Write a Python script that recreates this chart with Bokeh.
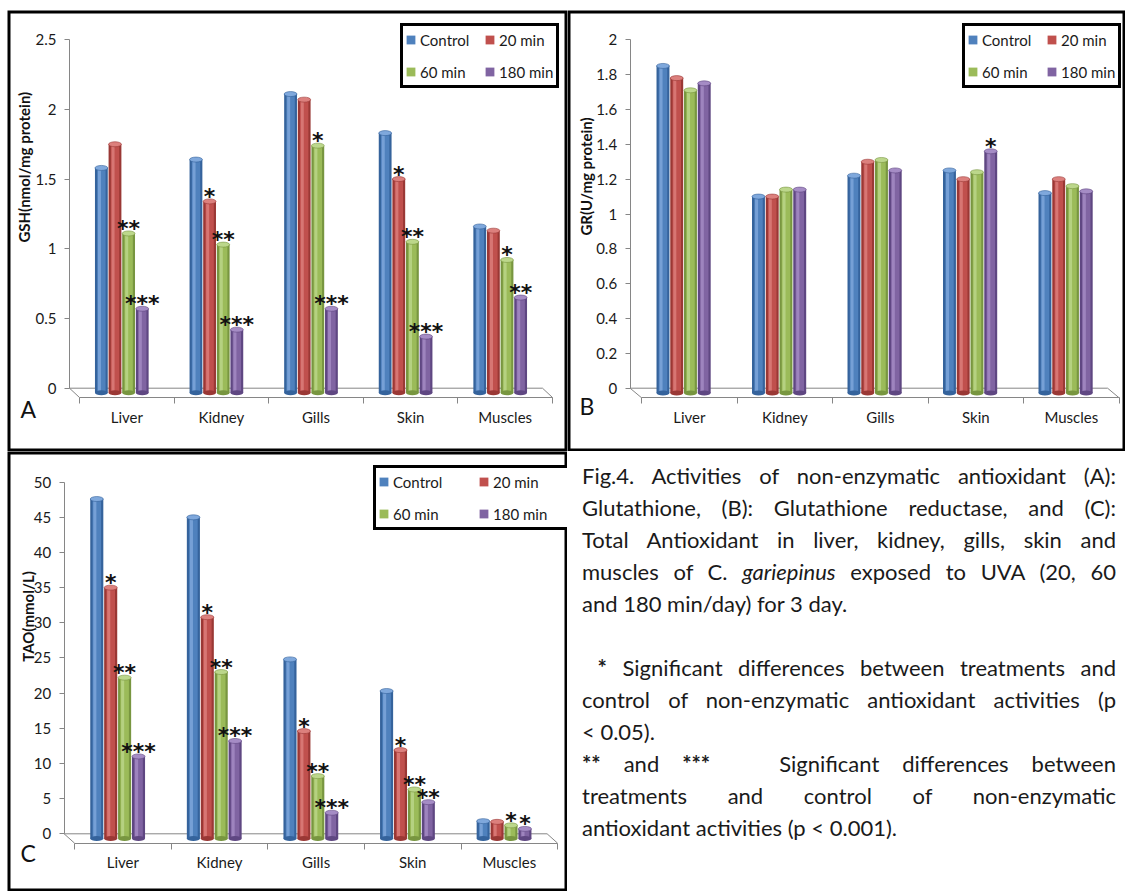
import numpy as np
from math import pi
from bokeh.plotting import figure
from bokeh.models import (ColumnDataSource, Range1d, FixedTicker, NumeralTickFormatter,
                          Legend, LegendItem, Div, LinearAxis, BoxAnnotation)
from bokeh.layouts import row, column
from bokeh.embed import file_html
from bokeh.resources import INLINE
from bokeh.core.properties import value

# ---------------- data ----------------
categories = ["Liver", "Kidney", "Gills", "Skin", "Muscles"]
series = ["Control", "20 min", "60 min", "180 min"]

gsh_control = [1.58, 1.64, 2.11, 1.83, 1.16]
gsh_20 = [1.75, 1.34, 2.07, 1.50, 1.13]
gsh_60 = [1.11, 1.03, 1.74, 1.05, 0.92]
gsh_180 = [0.57, 0.42, 0.57, 0.37, 0.65]
gsh_sig_control = ["", "", "", "", ""]
gsh_sig_20 = ["", "*", "", "*", ""]
gsh_sig_60 = ["**", "**", "*", "**", "*"]
gsh_sig_180 = ["***", "***", "***", "***", "**"]
gsh_ticks = [0, 0.5, 1, 1.5, 2, 2.5]

gr_control = [1.85, 1.10, 1.22, 1.25, 1.12]
gr_20 = [1.78, 1.10, 1.30, 1.20, 1.20]
gr_60 = [1.71, 1.14, 1.31, 1.24, 1.16]
gr_180 = [1.75, 1.14, 1.25, 1.36, 1.13]
gr_sig_control = ["", "", "", "", ""]
gr_sig_20 = ["", "", "", "", ""]
gr_sig_60 = ["", "", "", "", ""]
gr_sig_180 = ["", "", "", "*", ""]
gr_ticks = [0, 0.2, 0.4, 0.6, 0.8, 1, 1.2, 1.4, 1.6, 1.8, 2]

tao_control = [47.6, 45.0, 24.8, 20.3, 1.8]
tao_20 = [35.0, 30.8, 14.6, 11.9, 1.7]
tao_60 = [22.2, 23.0, 8.2, 6.3, 1.2]
tao_180 = [11.0, 13.2, 3.0, 4.5, 0.7]
tao_sig_control = ["", "", "", "", ""]
tao_sig_20 = ["*", "*", "*", "*", ""]
tao_sig_60 = ["**", "**", "**", "**", "*"]
tao_sig_180 = ["***", "***", "***", "**", "*"]
tao_ticks = [0, 5, 10, 15, 20, 25, 30, 35, 40, 45, 50]

# caption lines as (html, justified?) ; None = blank line
caption_lines = [
    ("Fig.4. Activities of non-enzymatic antioxidant (A):", True),
    ("Glutathione, (B): Glutathione reductase, and (C):", True),
    ("Total Antioxidant in liver, kidney, gills, skin and", True),
    ("muscles of C. <i>gariepinus</i> exposed to UVA (20, 60", True),
    ("and 180 min/day) for 3 day.", False),
    None,
    ("&nbsp;<b>*</b> Significant differences between treatments and", True),
    ("control of non-enzymatic antioxidant activities (p", True),
    ("&lt; 0.05).", False),
    ("<b>**</b> and <b>***</b>&nbsp;&nbsp; Significant differences between", True),
    ("treatments and control of non-enzymatic", True),
    ("antioxidant activities (p &lt; 0.001).", False),
]

# ---------------- style ----------------
FONT = "Lato"
AXIS_GRAY = "#868686"
BASE = ["#4F81BD", "#C0504D", "#9BBB59", "#8064A2"]
LIGHT = ["#7FA8DC", "#DC807D", "#BCD78B", "#A58CC5"]
DARK = ["#35639C", "#9A3835", "#789640", "#5F4782"]
BAR_W = 0.144
LEGEND_H = 66


def make_panel(vals, sigs, ylabel, yticks, letter, g, legend_label_width):
    W, H, ax, zero = g["W"], g["H"], g["ax"], g["zero"]
    cat, unit = g["cat"], g["unit"]
    f = g["shift"] / cat
    y_front = -g["drop"] / unit
    n = len(categories)
    x0, x1 = -ax / cat, (W - ax) / cat

    p = figure(width=W, height=H, x_range=Range1d(x0, x1),
               y_range=Range1d((zero - H) / unit, zero / unit),
               x_axis_location=None, toolbar_location=None, output_backend="svg",
               min_border=0)
    p.outline_line_color = None
    p.grid.grid_line_color = None
    p.background_fill_color = "white"
    p.border_fill_color = "white"

    # category axis on the front edge of the floor
    p.extra_x_ranges = {"front": Range1d(x0 - f - 0.5, x1 - f - 0.5)}
    xax = LinearAxis(x_range_name="front", fixed_location=y_front,
                     ticker=FixedTicker(ticks=list(range(n)),
                                        minor_ticks=[k - 0.5 for k in range(n + 1)]),
                     major_label_overrides={k: c for k, c in enumerate(categories)},
                     bounds=(-0.5, n - 0.5))
    xax.axis_line_color = AXIS_GRAY
    xax.major_tick_out = 0
    xax.major_tick_in = 0
    xax.minor_tick_out = 6
    xax.minor_tick_in = 0
    xax.minor_tick_line_color = AXIS_GRAY
    xax.major_label_text_font = FONT
    xax.major_label_text_font_size = "15px"
    xax.major_label_text_color = "#1a1a1a"
    xax.major_label_standoff = 4
    p.add_layout(xax, "below")

    yax = p.yaxis[0]
    yax.fixed_location = 0
    yax.ticker = FixedTicker(ticks=yticks)
    yax.formatter = NumeralTickFormatter(format="0.[0]")
    yax.bounds = (0, yticks[-1])
    yax.axis_line_color = AXIS_GRAY
    yax.major_tick_line_color = AXIS_GRAY
    yax.major_tick_out = 5
    yax.major_tick_in = 0
    yax.minor_tick_line_color = None
    yax.major_label_text_font = FONT
    yax.major_label_text_font_size = "15px"
    yax.major_label_text_color = "#1a1a1a"
    yax.major_label_standoff = 8

    # floor of the 3-D chart
    p.segment(x0=[0, 0, n], y0=[0, 0, 0], x1=[n, f, n + f], y1=[0, y_front, y_front],
              line_color=AXIS_GRAY, line_width=1)

    base = y_front / 2
    mids = []
    for j, (v, s) in enumerate(zip(vals, sigs)):
        xs = np.arange(n) + 0.5 + f / 2 + (j - 1.5) * BAR_W
        src = ColumnDataSource(dict(x=xs, v=v, sig=s, b=[base] * n))
        p.vbar(x="x", top="v", bottom="b", width=BAR_W * 0.94, source=src,
               fill_color=DARK[j], line_color=None)
        r = p.vbar(x="x", top="v", bottom="b", width=BAR_W * 0.62, source=src,
                   fill_color=BASE[j], line_color=None)
        p.vbar(x=xs - BAR_W * 0.14, top=v, bottom=[base] * n, width=BAR_W * 0.22,
               fill_color=LIGHT[j], line_color=None, fill_alpha=0.8)
        p.ellipse(x="x", y="b", width=BAR_W * 0.94, height=5, height_units="screen",
                  source=src, fill_color=DARK[j], line_color=None)
        p.ellipse(x="x", y="v", width=BAR_W * 0.94, height=5, height_units="screen",
                  source=src, fill_color=LIGHT[j], line_color=DARK[j], line_width=0.6)
        p.text(x="x", y="v", text="sig", source=src, text_font=value("DejaVu Sans"),
               text_font_size="22px", text_font_style="bold", text_align="center",
               text_baseline="alphabetic", y_offset=-5, text_color="#111111")
        mids.append(r)

    legend = Legend(items=[LegendItem(label=s, renderers=[r]) for s, r in zip(series, mids)],
                    location=(g["lg_left"], H - g["lg_top"] - LEGEND_H),
                    orientation="horizontal", ncols=2)
    legend.border_line_color = "black"
    legend.border_line_width = 3
    legend.border_line_alpha = 1
    legend.background_fill_color = "white"
    legend.background_fill_alpha = 1
    legend.label_text_font = FONT
    legend.label_text_font_size = "15px"
    legend.label_text_color = "#1a1a1a"
    legend.glyph_width = 11
    legend.glyph_height = 11
    legend.label_standoff = 4
    legend.label_width = legend_label_width
    legend.label_height = 23
    legend.padding = 2
    legend.spacing = 9
    legend.margin = 0
    p.add_layout(legend)

    # y-axis title and panel letter
    p.text(x=[(g["ylx"] - ax) / cat], y=[(zero - g["yly"]) / unit], text=[ylabel],
           angle=pi / 2, text_align="center", text_baseline="middle",
           text_font=value(FONT), text_font_size="15px", text_font_style="bold",
           text_color="#111111")
    p.text(x=[(g["lx"] - ax) / cat], y=[(zero - g["ly"]) / unit], text=[letter],
           text_align="left", text_baseline="middle",
           text_font=value(FONT), text_font_size="23px", text_color="#111111")

    # panel frame
    p.add_layout(BoxAnnotation(fill_color=None, line_color="black", line_width=6,
                               line_alpha=1))
    return p


geo_a = dict(W=560, H=441, ax=62, cat=94.6, shift=10, drop=9.3, zero=377.7, unit=139.4,
             ylx=16.6, yly=156.7, lx=13, ly=398, lg_left=393, lg_top=12)
geo_b = dict(W=558, H=441, ax=62.6, cat=95.5, shift=11.5, drop=9.6, zero=377.7, unit=174.2,
             ylx=18, yly=166, lx=12, ly=395, lg_left=395, lg_top=12)
geo_c = dict(W=560, H=440, ax=56.6, cat=96.6, shift=10.5, drop=9.4, zero=382.3, unit=7.033,
             ylx=20, yly=165, lx=13, ly=401, lg_left=366, lg_top=13)

pA = make_panel([gsh_control, gsh_20, gsh_60, gsh_180],
                [gsh_sig_control, gsh_sig_20, gsh_sig_60, gsh_sig_180],
                "GSH(nmol/mg protein)", gsh_ticks, "A", geo_a, 55)
pB = make_panel([gr_control, gr_20, gr_60, gr_180],
                [gr_sig_control, gr_sig_20, gr_sig_60, gr_sig_180],
                "GR(U/mg protein)", gr_ticks, "B", geo_b, 55)
pC = make_panel([tao_control, tao_20, tao_60, tao_180],
                [tao_sig_control, tao_sig_20, tao_sig_60, tao_sig_180],
                "TAO(mmol/L)", tao_ticks, "C", geo_c, 76)

line_divs = []
for item in caption_lines:
    if item is None:
        line_divs.append('<div style="height:32px;"></div>')
    else:
        html, just = item
        align = "justify" if just else "left"
        line_divs.append('<div style="white-space:nowrap; text-align:%s; text-align-last:%s;">%s</div>'
                         % (align, align, html))
caption_html = (
    '<div style="box-sizing:border-box; padding:9px 0 0 15px; width:549px; font-family:Lato; '
    'font-size:22px; line-height:32px; color:#1a1a1a;">' + "".join(line_divs) + '</div>'
)
div = Div(text=caption_html, width=558, height=440, margin=0)

layout = row(column(pA, pC), column(pB, div), margin=(10, 0, 0, 7))
open("out.html", "w").write(file_html(layout, INLINE))
